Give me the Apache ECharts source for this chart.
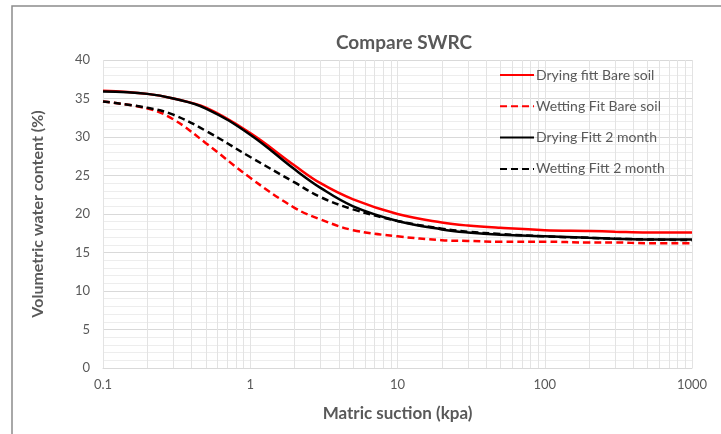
<!DOCTYPE html>
<html>
<head>
<meta charset="utf-8">
<script src="https://cdn.jsdelivr.net/npm/echarts@6/dist/echarts.min.js"></script>
<style>html,body{margin:0;padding:0;background:#fff;}#c{width:721px;height:434px;}</style>
</head>
<body>
<div id="c"></div>
<script>
var suction = [0.1,0.2,0.3,0.5,1,2,3,5,10,20,30,50,100,200,300,500,1000];
var dryingBare = [36.0,35.6,35.0,33.8,30.5,26.3,24.0,21.9,20.0,18.9,18.5,18.2,17.9,17.8,17.7,17.6,17.6];
var wettingBare = [34.6,33.7,32.3,29.2,24.7,20.8,19.3,17.9,17.1,16.6,16.5,16.4,16.4,16.3,16.3,16.2,16.2];
var drying2m = [35.9,35.6,35.0,33.7,30.3,25.8,23.4,21.0,19.1,18.0,17.6,17.3,17.1,16.9,16.8,16.7,16.7];
var wetting2m = [34.6,33.8,32.9,30.8,27.4,24.1,22.2,20.6,19.1,18.1,17.7,17.4,17.1,16.9,16.8,16.7,16.6];
var seriesNames = ['Drying fitt Bare soil','Wetting Fit Bare soil','Drying Fitt 2 month','Wetting Fitt 2 month'];
var xTicks = [0.1,1,10,100,1000];

function pairs(v){ return suction.map(function(x,i){ return [x, v[i]]; }); }
var minorX = [];
for (var d = 0; d < xTicks.length - 1; d++) {
  for (var m = 1; m <= 9; m++) minorX.push(+(xTicks[d] * m).toPrecision(6));
}
minorX.push(1000);

var gray = '#595959';
var font = 'Lato, "Open Sans", sans-serif';
function mk(name, data, color, dashed, withGrid) {
  var s = {
    name: name, type: 'line', data: pairs(data), smooth: 0.4, symbol: 'none',
    lineStyle: { color: color, width: 2.5, type: dashed ? [7,4] : 'solid' },
    itemStyle: { color: color }, z: 3
  };
  if (withGrid) {
    s.markLine = {
      silent: true, symbol: 'none', label: { show: false }, animation: false,
      lineStyle: { color: '#e3e3e3', width: 1, type: 'solid' },
      data: minorX.map(function(v){ return { xAxis: v }; }), z: 0
    };
  }
  return s;
}

var chart = echarts.init(document.getElementById('c'));
chart.setOption({
  animation: false,
  backgroundColor: '#fff',
  graphic: [{ type: 'rect', shape: { x: 12, y: 6, width: 730, height: 450 }, style: { fill: 'none', stroke: '#8c8c8c', lineWidth: 1.5 }, z: 100 }],
  title: { text: 'Compare SWRC', left: 331, top: 28, textStyle: { fontFamily: font, fontSize: 19, fontWeight: 'bold', color: gray } },
  legend: {
    orient: 'vertical', left: 494, top: 63, itemWidth: 34, itemHeight: 14, itemGap: 17.3,
    itemStyle: { opacity: 0 },
    textStyle: { fontFamily: font, fontSize: 14, color: gray, padding: [0,0,0,-3] },
    data: seriesNames
  },
  grid: { left: 103, right: 29, top: 60, bottom: 66 },
  xAxis: {
    type: 'log', logBase: 10, min: 0.1, max: 1000,
    name: 'Matric suction (kpa)', nameLocation: 'middle', nameGap: 37,
    nameTextStyle: { fontFamily: font, fontSize: 17, fontWeight: 'bold', color: gray },
    axisLine: { show: true, lineStyle: { color: '#d9d9d9' } },
    axisTick: { show: false },
    axisLabel: { margin: 10, fontFamily: font, fontSize: 13, color: gray, formatter: function(v){ return String(v); } },
    splitLine: { show: true, lineStyle: { color: '#d9d9d9' } }
  },
  yAxis: {
    type: 'value', min: 0, max: 40, interval: 5,
    name: 'Volumetric water content (%)', nameLocation: 'middle', nameGap: 57,
    nameTextStyle: { fontFamily: font, fontSize: 16, fontWeight: 'bold', color: gray },
    axisLine: { show: false }, axisTick: { show: false },
    axisLabel: { margin: 13, fontFamily: font, fontSize: 13, color: gray },
    splitLine: { show: true, lineStyle: { color: '#d9d9d9' } },
    minorTick: { show: false, splitNumber: 5 },
    minorSplitLine: { show: true, lineStyle: { color: '#ededed' } }
  },
  series: [
    mk(seriesNames[0], dryingBare, '#ff0000', false, true),
    mk(seriesNames[1], wettingBare, '#ff0000', true, false),
    mk(seriesNames[2], drying2m, '#000000', false, false),
    mk(seriesNames[3], wetting2m, '#000000', true, false)
  ]
});
</script>
</body>
</html>
